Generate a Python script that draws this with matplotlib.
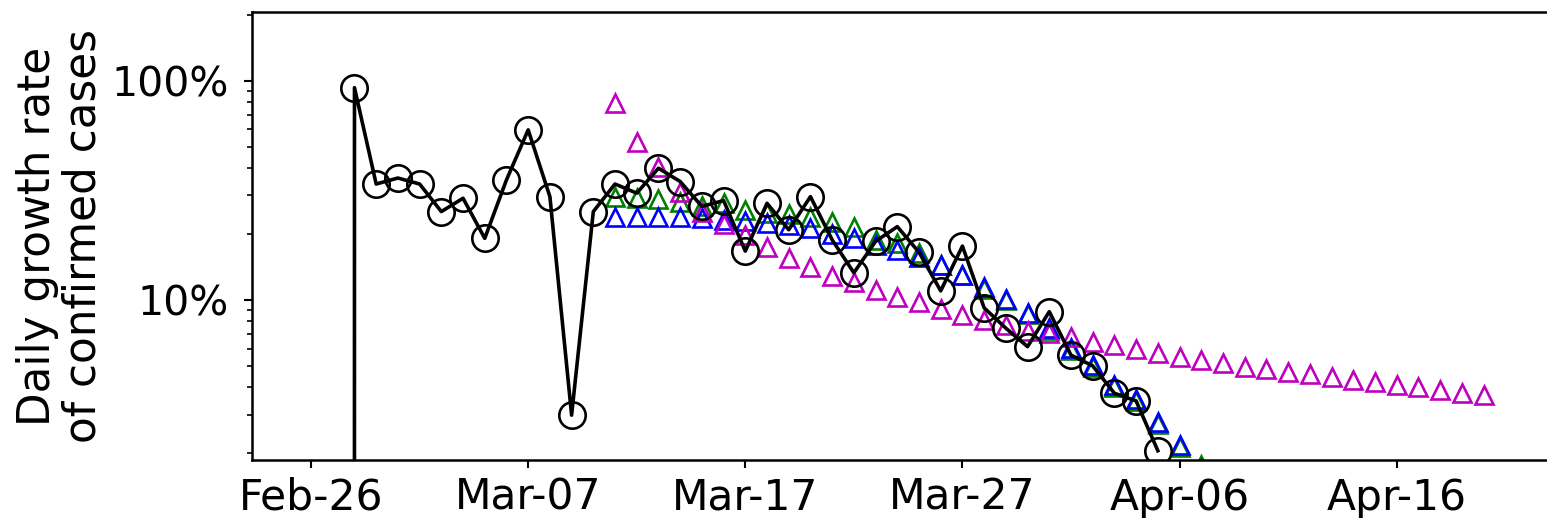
import numpy as np
import pandas as pd
import matplotlib
matplotlib.use("Agg")
import matplotlib.pyplot as plt
import matplotlib.dates as mdates
from matplotlib.ticker import FixedLocator, LogLocator, FuncFormatter, NullFormatter

# ---- data (daily growth rate, %) ----
observed_start = "2020-02-27"
observed = [0, 93, 33.8, 36, 33.8, 25.3, 29.1, 19.1, 35.3, 59.7, 29.6, 2.98, 25.3,
            33.8, 30.7, 39.9, 34.7, 26.7, 28.4, 16.7, 27.6, 20.9, 29.6, 18.8, 13.3,
            18.5, 21.6, 16.5, 11.0, 17.6, 9.2, 7.43, 6.12, 8.84, 5.6, 5.0, 3.75,
            3.46, 2.05]

model_start = "2020-03-11"
magenta = [79, 52.6, 40.3, 31.2, 25.3, 22.2, 19.8, 17.5, 15.5, 14.2, 12.9, 12.1,
           11.1, 10.3, 9.8, 9.07, 8.54, 8.11, 7.69, 7.22, 7.05, 6.76, 6.45, 6.23,
           5.95, 5.71, 5.51, 5.32, 5.14, 4.96, 4.84, 4.71, 4.59, 4.45, 4.33, 4.22,
           4.10, 3.99, 3.88, 3.78, 3.69]
green = [29.6, 29.1, 28.8, 28.1, 26.9, 27.6, 25.8, 24.9, 24.6, 24.0, 22.7, 21.6,
         18.8, 18.2, 16.3, 14.5, 13.0, 11.2, 10.0, 8.6, 7.3, 5.9, 4.95, 4.0, 3.45,
         2.72, 2.13, 1.77]
blue = [24.0, 24.0, 24.0, 24.0, 23.6, 23.2, 22.8, 22.4, 22.0, 21.4, 20.0, 19.1,
        17.8, 16.9, 15.7, 14.5, 13.0, 11.4, 10.1, 8.7, 7.43, 6.02, 5.05, 4.09,
        3.52, 2.78, 2.18, 1.7]

tick_dates = ["2020-02-26", "2020-03-07", "2020-03-17", "2020-03-27",
              "2020-04-06", "2020-04-16"]
ylabel = "Daily growth rate\nof confirmed cases"

d_obs = pd.date_range(observed_start, periods=len(observed), freq="D")
d_mag = pd.date_range(model_start, periods=len(magenta), freq="D")
d_grn = pd.date_range(model_start, periods=len(green), freq="D")
d_blu = pd.date_range(model_start, periods=len(blue), freq="D")

fig = plt.figure(figsize=(15.47, 5.18), dpi=100)
ax = fig.add_axes([252 / 1547, 58 / 518, (1553 - 252) / 1547, 448 / 518])

tri = dict(marker="^", linestyle="none", markersize=12.5, markerfacecolor="none",
           markeredgewidth=1.9)
ax.plot(d_grn, green, color="g", **tri)
ax.plot(d_blu, blue, color="b", **tri)
ax.plot(d_mag, magenta, color="m", **tri)
ax.plot(d_obs, observed, color="k", linewidth=2.6, marker="o", markersize=19,
        markerfacecolor="none", markeredgewidth=1.9)

ax.set_yscale("log")
ax.set_ylim(1.86, 206)
base = mdates.date2num(pd.Timestamp("2020-02-26"))
ax.set_xlim(base - 2.72, base + 57.2)

ax.xaxis.set_major_locator(FixedLocator(mdates.date2num(pd.to_datetime(tick_dates))))
ax.xaxis.set_major_formatter(mdates.DateFormatter("%b-%d"))
ax.yaxis.set_major_locator(LogLocator(base=10))
ax.yaxis.set_major_formatter(FuncFormatter(lambda v, p: f"{v:g}%"))
ax.yaxis.set_minor_locator(LogLocator(base=10, subs=np.arange(2, 10)))
ax.yaxis.set_minor_formatter(NullFormatter())

ax.tick_params(axis="x", which="major", labelsize=30.5, length=6, width=1.5, pad=6)
ax.tick_params(axis="y", which="major", labelsize=29.5, length=6, width=1.5, pad=11)
ax.tick_params(axis="y", which="minor", length=3.5, width=1.2)
for s in ax.spines.values():
    s.set_linewidth(1.8)
ax.set_ylabel(ylabel, fontsize=31.5, labelpad=5, linespacing=1.05)

fig.savefig("out.png", dpi=100)
